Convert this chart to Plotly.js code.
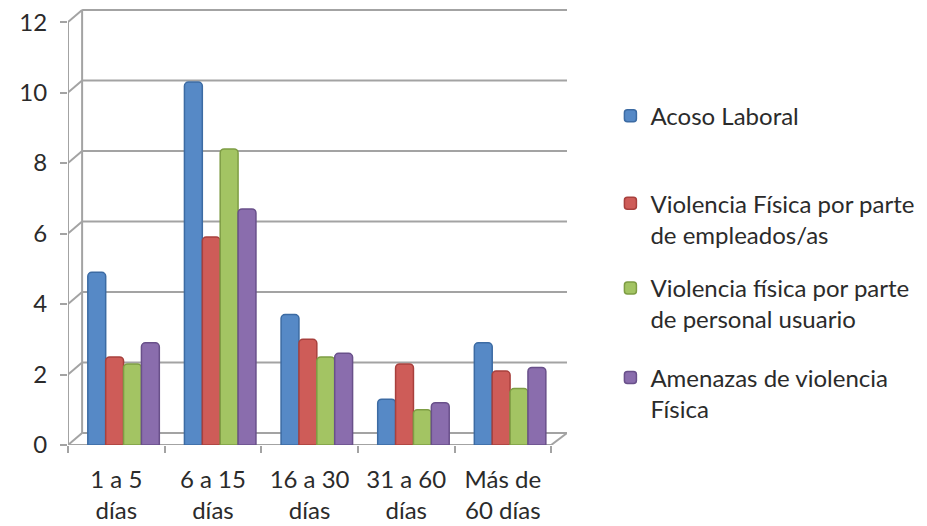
<!DOCTYPE html>
<html>
<head>
<meta charset="utf-8">
<script src="https://cdn.plot.ly/plotly-3.0.1.min.js"></script>
<style>html,body{margin:0;padding:0;background:#fff;}#chart{width:927px;height:526px;}</style>
</head>
<body>
<div id="chart"></div>
<script>
// ---- data ----
var categories = ["1 a 5<br>días", "6 a 15<br>días", "16 a 30<br>días", "31 a 60<br>días", "Más de<br>60 días"];
var seriesNames = ["Acoso Laboral",
  "Violencia Física por parte<br>de empleados/as",
  "Violencia física por parte<br>de personal usuario",
  "Amenazas de violencia<br>Física"];
var acosoLaboral      = [4.9, 10.3, 3.7, 1.3, 2.9];
var violenciaEmpleados = [2.5, 5.9, 3.0, 2.3, 2.1];
var violenciaUsuarios  = [2.3, 8.4, 2.5, 1.0, 1.6];
var amenazas           = [2.9, 6.7, 2.6, 1.2, 2.2];
var yTicks = [0, 2, 4, 6, 8, 10, 12];

// ---- style ----
var fills = ["#5689C6", "#CE5C58", "#A3C463", "#8A6DAD"];
var edges = ["#3C6BA3", "#A8403D", "#7E9D44", "#69508A"];
var fontFam = "Lato, 'Liberation Sans', sans-serif";
var txtCol = "#2b2b2b";
var gridCol = "#a3a3a3";
var depthX = 0.146, depthY = 0.34;   // pseudo-3D wall offset (axis units)
var xMin = -0.5, xMax = 4.664;

var allSeries = [acosoLaboral, violenciaEmpleados, violenciaUsuarios, amenazas];
var barW = 0.185, groupStart = -0.295;
var traces = allSeries.map(function (vals, i) {
  return {
    type: "bar",
    x: categories,
    y: vals,
    name: seriesNames[i],
    width: barW,
    offset: groupStart + i * barW,
    legend: i === 0 ? "legend" : "legend" + (i + 1),
    marker: { color: fills[i], line: { color: edges[i], width: 1.5 }, cornerradius: 4 },
    hoverinfo: "skip"
  };
});

var shapes = [];
var lineStyle = { color: gridCol, width: 2 };
yTicks.forEach(function (v) {
  shapes.push({ type: "line", xref: "x", yref: "y", layer: "below",
    x0: xMin + depthX, x1: xMax, y0: v + depthY, y1: v + depthY, line: lineStyle });
  shapes.push({ type: "line", xref: "x", yref: "y", layer: "below",
    x0: xMin, x1: xMin + depthX, y0: v, y1: v + depthY, line: lineStyle });
});
shapes.push({ type: "line", xref: "x", yref: "y", layer: "below",
  x0: xMin + depthX, x1: xMin + depthX, y0: depthY, y1: yTicks[yTicks.length - 1] + depthY, line: lineStyle });
shapes.push({ type: "line", xref: "x", yref: "y", layer: "below",
  x0: xMin, x1: xMin, y0: 0, y1: yTicks[yTicks.length - 1], line: lineStyle });
shapes.push({ type: "line", xref: "x", yref: "y", layer: "below",
  x0: xMin, x1: categories.length - 0.5, y0: 0, y1: 0, line: lineStyle });
shapes.push({ type: "line", xref: "x", yref: "y", layer: "below",
  x0: categories.length - 0.5, x1: xMax, y0: 0, y1: depthY, line: lineStyle });

function legendAt(y) {
  return { x: 1.087, y: y, xanchor: "left", yanchor: "top", valign: "top",
    bgcolor: "rgba(0,0,0,0)", font: { family: fontFam, size: 24, color: txtCol } };
}

var layout = {
  width: 927, height: 526,
  margin: { l: 68, r: 355, t: 8, b: 81, pad: 0 },
  paper_bgcolor: "#ffffff", plot_bgcolor: "#ffffff",
  barmode: "overlay",
  font: { family: fontFam, size: 24, color: txtCol },
  xaxis: {
    type: "category", range: [xMin, xMax],
    showgrid: false, zeroline: false, showline: false,
    ticks: "outside", tickson: "boundaries", ticklen: 7, tickwidth: 2, tickcolor: gridCol,
    ticklabelstandoff: 18,
    tickfont: { family: fontFam, size: 24, color: txtCol }
  },
  yaxis: {
    range: [0, 12.4], tickvals: yTicks, ticktext: yTicks.map(String),
    showgrid: false, zeroline: false, showline: false,
    ticks: "outside", ticklen: 7, tickwidth: 2, tickcolor: gridCol,
    ticklabelstandoff: 8,
    tickfont: { family: fontFam, size: 24, color: txtCol }
  },
  shapes: shapes,
  showlegend: true,
  legend: legendAt(0.804),
  legend2: legendAt(0.604),
  legend3: legendAt(0.41),
  legend4: legendAt(0.205)
};

Plotly.newPlot("chart", traces, layout, { displayModeBar: false, staticPlot: true });
</script>
</body>
</html>
